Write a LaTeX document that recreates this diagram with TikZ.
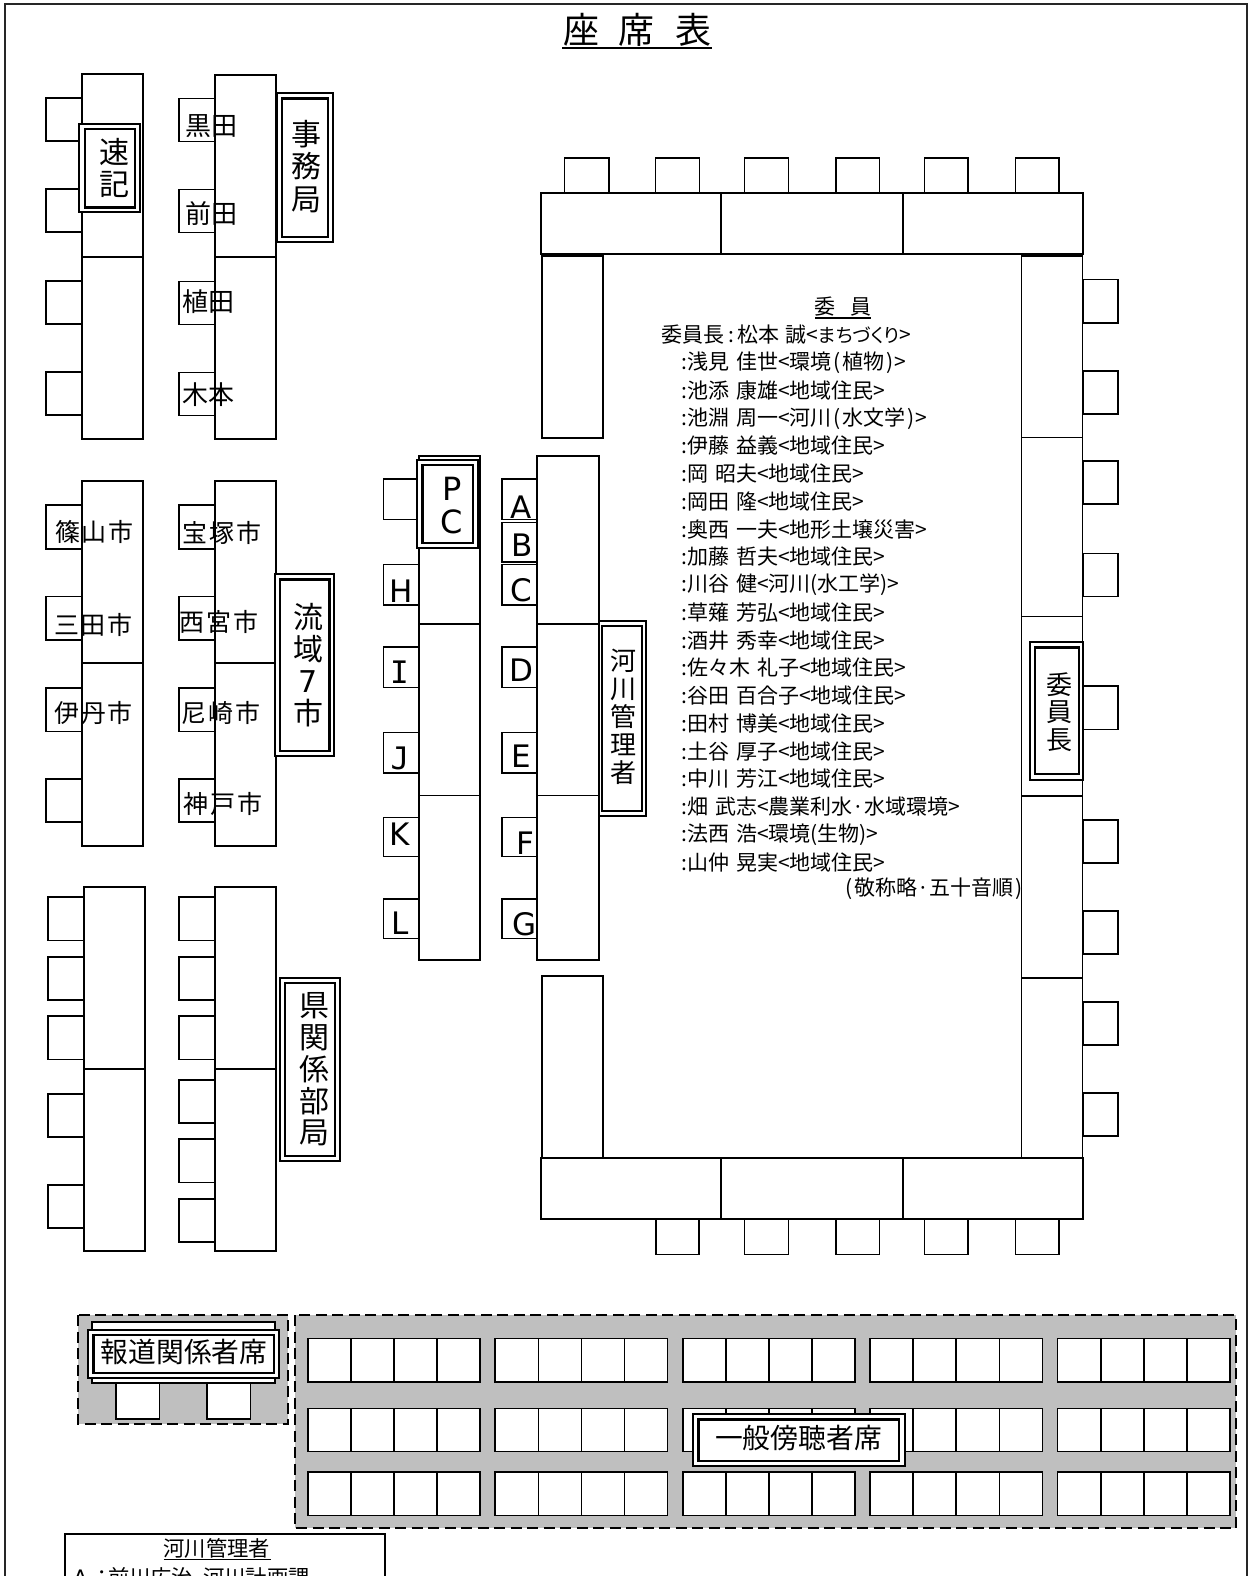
\documentclass[tikz,border=0pt]{standalone}
\usepackage{fontspec}
\setmainfont{DejaVu Sans}
\newfontfamily\jp{Noto Sans CJK JP}
\newfontfamily\jpp[RawFeature=+palt]{Noto Sans CJK JP}
\newfontfamily\jpls[LetterSpace=7.0]{Noto Sans CJK JP}
\newfontfamily\lat{DejaVu Sans}
\newfontfamily\latm{DejaVu Sans Mono}
\newcommand{\fs}[2]{\fontsize{#1}{#2}\selectfont}
\newcommand{\gp}{\kern6.5pt}
\tikzset{
  seat/.style={draw=black,fill=white,line width=1.6pt},
  tbl/.style={draw=black,fill=white,line width=1.7pt},
  bordo/.style={draw=black,fill=white,line width=2pt},
  bordi/.style={draw=black,fill=white,line width=2.4pt},
  zone/.style={draw=black,fill=black!25,line width=1.7pt,dash pattern=on 11pt off 5.5pt},
  frame/.style={draw=black!85,line width=2pt},
  ul/.style={draw=black,line width=1.5pt},
  lab/.style={inner sep=0pt,font=\jpls\fs{25}{25}},
  sign/.style={inner sep=0pt,align=center,font=\jp\fs{30}{32}},
  letter/.style={inner sep=0pt,font=\lat\fs{31}{31}},
  memb/.style={inner sep=0pt,anchor=west,font=\jp\fs{21}{21}},
}
\newcommand{\dbl}[8]{%
  \draw[bordo] (#1,#2) rectangle (#3,#4);
  \draw[bordi] (#5,#6) rectangle (#7,#8);}
\newcommand{\mem}[2]{\node[memb] (m#1) at (681.5,{335+27.75*#1}) {#2};}
\begin{document}
\begin{tikzpicture}[x=1pt,y=-1pt]
\useasboundingbox (0,0) rectangle (1250,1576);
\clip (0,0) rectangle (1250,1576);
\fill[white] (0,0) rectangle (1250,1576);
\draw[frame] (5,4) rectangle (1247,1600);

% title
\node[inner sep=0pt,font=\jp\fs{36}{36}] (title) at (637,29.5) {座\kern20pt席\kern20pt表};
\draw[ul,line width=2pt] (562,47.6) -- (712,47.6);

% upper-left tables
\foreach \a/\b in {98/141,189/232,281/324,372/415}{
  \draw[seat] (46,\a) rectangle (82,\b);
  \draw[seat] (179,\a+.5) rectangle (215,\b+.5);
}
\draw[tbl] (81.7,74) rectangle (142.7,256.7);
\draw[tbl] (81.7,256.7) rectangle (142.7,439);
\draw[tbl] (214.7,74.7) rectangle (276,257);
\draw[tbl] (214.7,257) rectangle (276,439);

% middle-left tables
\foreach \a/\b in {505/548.7,596.3/640,687.7/731.3,779/822}{
  \draw[seat] (46,\a) rectangle (82,\b);
  \draw[seat] (179,\a) rectangle (215,\b);
}
\draw[tbl] (81.7,481.3) rectangle (142.7,663.3);
\draw[tbl] (81.7,663.3) rectangle (142.7,846);
\draw[tbl] (214.7,481.3) rectangle (276,663.3);
\draw[tbl] (214.7,663.3) rectangle (276,846);

% lower-left tables
\foreach \a/\b in {897/940.3,956.7/999.7,1016/1059.3,1093.7/1136.7,1184.7/1227.7}{
  \draw[seat] (48,\a) rectangle (84,\b);
}
\foreach \a/\b in {897/940.3,956.7/999.7,1016/1059.3,1079.7/1123,1139/1182.3,1198.7/1241.7}{
  \draw[seat] (179,\a) rectangle (215,\b);
}
\draw[tbl] (83.7,887.3) rectangle (144.7,1069.3);
\draw[tbl] (83.7,1069.3) rectangle (144.7,1251);
\draw[tbl] (214.7,887.3) rectangle (275.7,1069.3);
\draw[tbl] (214.7,1069.3) rectangle (275.7,1251);

% centre tables
\foreach \a/\b in {478.9/519.5,564.6/605.2,646.9/687.5,732.3/772.9,817.3/856.5,899.2/938.5}{
  \draw[seat] (383.3,\a) rectangle (419,\b);
}
\foreach \a/\b in {478.9/519.5,522.6/561.9,564.6/605.2,646.9/687.5,732.3/772.9,817.3/856.5,899.2/938.5}{
  \draw[seat] (502,\a) rectangle (537.5,\b);
}
\draw[tbl] (418.7,456.2) rectangle (480,624.2);
\draw[tbl] (418.7,624.2) rectangle (480,795.6);
\draw[tbl] (418.7,795.6) rectangle (480,959.8);
\draw[tbl] (537.3,456.2) rectangle (598.7,624.2);
\draw[tbl] (537.3,624.2) rectangle (598.7,795.6);
\draw[tbl] (537.3,795.6) rectangle (598.7,959.8);

% committee ring
\foreach \a/\b in {564.4/608.8,655.5/699.5,744.6/788.3,835.7/879.4,924.5/968,1015.6/1059.2}{
  \draw[seat] (\a,157.7) rectangle (\b,193);
}
\foreach \a/\b in {655.8/699,744.6/788.3,835.7/879.4,924.5/968,1015.6/1059}{
  \draw[seat] (\a,1219.3) rectangle (\b,1254.3);
}
\foreach \a/\b in {279.6/322.9,370.7/413.9,461/504,553.6/596.4,686/729.3,820/862.7,910.7/954,1001.7/1045,1092.7/1136}{
  \draw[seat] (1083,\a) rectangle (1118,\b);
}
\draw[tbl] (540.7,193) rectangle (721,254);
\draw[tbl] (721,193) rectangle (902.7,254);
\draw[tbl] (902.7,193) rectangle (1083,254);
\draw[tbl] (541.8,255.7) rectangle (602.7,438);
\draw[tbl] (541.8,976) rectangle (602.7,1158.3);
\draw[tbl] (1021.5,255.7) rectangle (1082.6,437.5);
\draw[tbl] (1021.5,437.5) rectangle (1082.6,616.4);
\draw[tbl] (1021.5,616.4) rectangle (1082.6,795.7);
\draw[tbl] (1021.5,795.7) rectangle (1082.6,977.8);
\draw[tbl] (1021.5,977.8) rectangle (1082.6,1159.7);
\draw[tbl] (540.7,1158.3) rectangle (721,1219.3);
\draw[tbl] (721,1158.3) rectangle (902.7,1219.3);
\draw[tbl] (902.7,1158.3) rectangle (1083,1219.3);

% grey zones
\draw[zone] (78.3,1315) rectangle (288.3,1424.3);
\draw[zone] (295,1315) rectangle (1236,1528.3);
\draw[tbl] (91.7,1322.3) rectangle (275,1383.3);
\draw[seat] (115.7,1383.3) rectangle (159.3,1418.7);
\draw[seat] (206.7,1383.3) rectangle (250.3,1418.7);
\foreach \bx in {307.7,495.2,682.8,870,1057.6}{
  \foreach \a/\b in {1338.3/1381.7,1408.3/1451.3,1472/1515.3}{
    \foreach \i in {0,1,2,3}{
      \draw[seat] ({\bx+43.1*\i},\a) rectangle ({\bx+43.1*(\i+1)},\b);
    }
  }
}

% signs
\dbl{79.3}{124}{140.3}{212.3}{84.7}{129.3}{135}{207.3}
\node[sign] (sokki) at (114,168) {速\\記};
\dbl{277.3}{93.3}{332.7}{242}{282}{98.7}{328}{236.7}
\node[sign,font=\jp\fs{30}{32.5}] (jimu) at (306.7,166.5) {事\\務\\局};
\dbl{275.3}{574}{334.3}{756}{280}{579.3}{329.3}{750.7}
\node[sign] (ryuiki) at (308.3,665) {流\\域\\{\lat 7}\\市};
\dbl{280}{977.7}{340}{1161}{285}{983}{335}{1156}
\node[sign,font=\jp\fs{30}{31.7}] (ken) at (314,1069.5) {県\\関\\係\\部\\局};
\dbl{417}{459.6}{478}{548.4}{422.3}{464.8}{473}{543}
\node[sign,font=\lat\fs{32}{33}] (pc) at (452,506) {P\\C};
\dbl{599}{620.7}{646}{816}{602}{625.9}{641.7}{810.7}
\node[sign,font=\jp\fs{26}{27.9}] (kanri) at (623.5,717) {河\\川\\管\\理\\者};
\dbl{1029.7}{642}{1083.2}{779.6}{1035}{647.5}{1078.8}{774}
\node[sign,font=\jp\fs{26}{27.6}] (iin) at (1059.5,712) {委\\員\\長};
\draw[bordo] (88.3,1329.7) rectangle (279,1377.7);
\draw[bordi] (93.3,1334.7) rectangle (274,1372.7);
\node[sign,font=\jp\fs{27.8}{28}] (press) at (184,1351.7) {報道関係者席};
\dbl{692.5}{1414}{904.6}{1466}{698.4}{1419.3}{899}{1461}
\node[sign,font=\jp\fs{27.8}{28}] (public) at (798.5,1437.7) {一般傍聴者席};

% name labels
\node[lab,font=\jp\fs{26}{26}] (kuroda) at (211,126) {黒田};
\node[lab,font=\jp\fs{26}{26}] (maeda) at (211,213.5) {前田};
\node[lab,font=\jp\fs{26}{26}] (ueda) at (208,301.5) {植田};
\node[lab,font=\jp\fs{26}{26}] (kimoto) at (208.5,395) {木本};
\node[lab] (sasa) at (94.3,532.3) {篠山市};
\node[lab] (sanda) at (93.3,625) {三田市};
\node[lab] (itami) at (93.5,713) {伊丹市};
\node[lab] (takara) at (221.8,533.3) {宝塚市};
\node[lab] (nishi) at (218.8,621.7) {西宮市};
\node[lab] (ama) at (221,713.3) {尼崎市};
\node[lab] (kobe) at (223,804.3) {神戸市};

% letters
\node[letter] (la) at (521,506.8) {A};
\node[letter] (lb) at (522,545.5) {B};
\node[letter] (lc) at (521,590) {C};
\node[letter] (ld) at (521,670) {D};
\node[letter] (le) at (521.7,755.8) {E};
\node[letter] (lf) at (525.8,842.8) {F};
\node[letter] (lg) at (524.5,924) {G};
\node[letter] (lh) at (401,591.5) {H};
\node[letter,font=\latm\fs{31}{31}] (li) at (399.5,672) {I};
\node[letter,font=\latm\fs{31}{31}] (lj) at (400,758) {J};
\node[letter] (lk) at (400,834) {K};
\node[letter] (ll) at (400,923.6) {L};

% member list
\node[inner sep=0pt,font=\jp\fs{21}{21}] (head) at (842.5,306.7) {委\kern15pt員};
\draw[ul] (815,317.8) -- (870.5,317.8);
\node[memb] (chair) at (661.7,335) {委員長\kern3.5pt:\kern3pt松本\gp 誠<{\jpp\fs{19}{21}まちづくり}>};
\mem{1}{:浅見\gp 佳世<環境\kern2pt(\kern2pt植物\kern2pt)\kern1pt>}
\mem{2}{:池添\gp 康雄<地域住民>}
\mem{3}{:池淵\gp 周一<河川\kern2pt(\kern2pt水文学\kern2pt)\kern1pt>}
\mem{4}{:伊藤\gp 益義<地域住民>}
\mem{5}{:岡\gp 昭夫<地域住民>}
\mem{6}{:岡田\gp 隆<地域住民>}
\mem{7}{:奥西\gp 一夫<地形土壌災害>}
\mem{8}{:加藤\gp 哲夫<地域住民>}
\mem{9}{:川谷\gp 健<河川(水工学)>}
\mem{10}{:草薙\gp 芳弘<地域住民>}
\mem{11}{:酒井\gp 秀幸<地域住民>}
\mem{12}{:佐々木\gp 礼子<地域住民>}
\mem{13}{:谷田\gp 百合子<地域住民>}
\mem{14}{:田村\gp 博美<地域住民>}
\mem{15}{:土谷\gp 厚子<地域住民>}
\mem{16}{:中川\gp 芳江<地域住民>}
\mem{17}{:畑\gp 武志<農業利水·水域環境>}
\mem{18}{:法西\gp 浩<環境(生物)>}
\mem{19}{:山仲\gp 晃実<地域住民>}
\node[inner sep=0pt,anchor=east,font=\jp\fs{21}{21}] (note) at (1022.5,889) {(\kern2pt敬称略·五十音順\kern2pt)};

% legend (runs off the page)
\draw[ul,line width=1.7pt] (65.3,1600) -- (65.3,1534) -- (385,1534) -- (385,1600);
\node[inner sep=0pt,font=\jp\fs{21.3}{21.3}] (legendhead) at (216.7,1548) {河川管理者};
\draw[ul] (163.5,1559.3) -- (270.5,1559.3);
\node[inner sep=0pt,anchor=west,font=\jp\fs{21.3}{21.3}] (legenda) at (73,1577.5) {{\lat A}\kern4pt：\kern-5pt前川広治\kern10pt河川計画課};
\end{tikzpicture}
\end{document}
